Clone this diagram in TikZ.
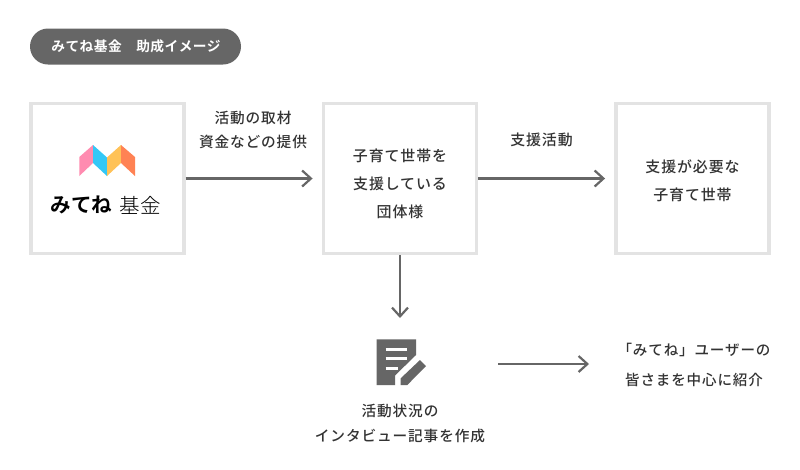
\documentclass[tikz,border=0pt]{standalone}
\usepackage{fontspec}
\setmainfont[LetterSpace=6]{Noto Sans CJK JP Medium}
\newfontfamily\titlefont[LetterSpace=3]{Noto Sans CJK JP Bold}
\newfontfamily\logofont{Noto Sans CJK JP Bold}
\newfontfamily\logolight{Noto Sans CJK JP Light}
\usetikzlibrary{arrows.meta}
\definecolor{tgray}{HTML}{333333}
\definecolor{lgray}{HTML}{E3E3E3}
\definecolor{agray}{HTML}{666666}
\newlength{\pxu}\setlength{\pxu}{0.75pt}
\tikzset{
 panel/.style={draw=lgray,line width=2.4pt,fill=white,minimum width=153\pxu,minimum height=150\pxu,inner sep=0pt},
 lbl/.style={text=tgray,font=\fontsize{11.2pt}{21pt}\selectfont,align=center,inner sep=0pt},
 conn/.style={draw=agray,line width=1.65pt,-{Straight Barb[length=6.6pt,width=12pt,line width=1.65pt]}},
}
\begin{document}
\begin{tikzpicture}[x=0.75pt,y=-0.75pt]
\useasboundingbox (0,0) rectangle (800,469);
\fill[white] (0,0) rectangle (800,469);
\node[fill=agray,rounded corners=13.5pt,minimum width=211\pxu,minimum height=36\pxu,inner sep=0pt] (title) at (135.5,46.5) {};
\node[text=white,font=\fontsize{10.3pt}{12pt}\titlefont,inner sep=0pt] (titletext) at (136,46.5) {みてね基金　助成イメージ};
\node[panel] (fund) at (107.5,178.5) {};
\node[panel] (group) at (400,178.5) {};
\node[panel] (family) at (692.5,178.5) {};
% logo
\fill[color={rgb,255:red,255;green,139;blue,176}] (79.3,157) -- (93,145) -- (93,163) -- (79.3,176) -- cycle;
\fill[color={rgb,255:red,51;green,200;blue,247}] (93,145) -- (107,157.5) -- (107,176) -- (93,163) -- cycle;
\fill[color={rgb,255:red,255;green,194;blue,87}] (107,157.5) -- (121,145) -- (121,163) -- (107,176) -- cycle;
\fill[color={rgb,255:red,255;green,130;blue,84}] (121,145) -- (135,157) -- (135,176) -- (121,163) -- cycle;
\node[inner sep=0pt,text=black,font=\fontsize{15.4pt}{17pt}\logofont] (logoa) at (81.5,205) {みてね};
\node[inner sep=0pt,text=black,font=\fontsize{15.4pt}{17pt}\logolight] (logob) at (140,205) {基金};
% box labels
\node[lbl] (grouptext) at (400,183.5) {子育て世帯を\\支援している\\団体様};
\node[lbl] (familytext) at (692.5,181) {支援が必要な\\子育て世帯};
\node[lbl,font=\fontsize{11pt}{18pt}\selectfont] (t1) at (253,129.5) {活動の取材\\資金などの提供};
\node[lbl] (t2) at (541.5,140) {支援活動};
% connectors
\draw[conn,shorten >=7pt] (fund.east) -- (group.west);
\draw[conn,shorten >=7pt] (group.east) -- (family.west);
\coordinate (vend) at (400,318);
\draw[conn] (group.south) -- (vend);
% icon
\fill[agray] (376.7,339.3) -- (416,339.3) -- (416,355) -- (395,375.5) -- (395,385) -- (376.7,385) -- cycle;
\fill[agray] (420,360) -- (426,366) -- (407.3,385) -- (400.7,385) -- (400.7,378.3) -- cycle;
\draw[white,line width=1.9pt] (385.7,349.3) -- (407,349.3) (385.7,358.7) -- (407,358.7) (385.7,368.3) -- (398,368.3);
\node[lbl,font=\fontsize{11pt}{18.7pt}\selectfont] (report) at (400,423.5) {活動状況の\\インタビュー記事を作成};
\coordinate (arrowstart) at (498,364);
\node[lbl,font=\fontsize{10.9pt}{22pt}\selectfont] (users) at (694,365) {「みてね」ユーザーの\\皆さまを中心に紹介};
\coordinate (arrowend) at (589,364);
\draw[conn] (arrowstart) -- (arrowend);
\end{tikzpicture}
\end{document}
